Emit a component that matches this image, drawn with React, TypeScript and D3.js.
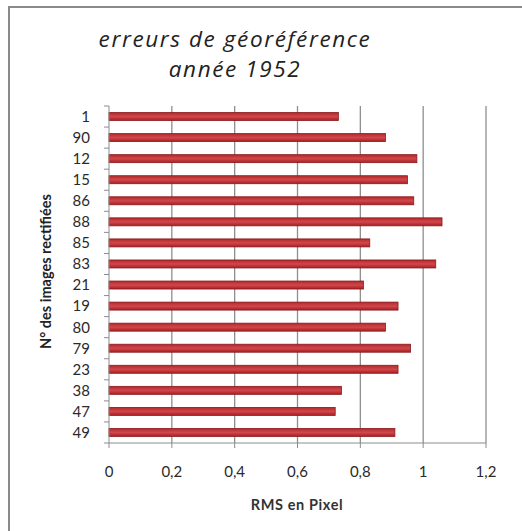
import React from "react";
import * as d3 from "d3";

const categories = ["1", "90", "12", "15", "86", "88", "85", "83", "21", "19", "80", "79", "23", "38", "47", "49"];
const rmsValues = [0.73, 0.88, 0.98, 0.95, 0.97, 1.06, 0.83, 1.04, 0.81, 0.92, 0.88, 0.96, 0.92, 0.74, 0.72, 0.91];
const xTicks = [0, 0.2, 0.4, 0.6, 0.8, 1, 1.2];
const titleLines = ["erreurs de géoréférence", "année 1952"];
const xTitle = "RMS en Pixel";
const yTitle = "N° des images rectifiées";

const W = 522;
const H = 531;
const left = 109;
const right = 486;
const top = 106;
const bottom = 443;

export default function App() {
  const x = d3.scaleLinear().domain([0, 1.2]).range([left, right]);
  const y = d3.scaleBand<string>().domain(categories).range([top, bottom]).paddingInner(0).paddingOuter(0);
  const bw = y.bandwidth();
  const barH = 8;
  const fmt = (v: number) => String(v).replace(".", ",");
  const font = "Lato, 'Open Sans', sans-serif";
  const titleFont = "'Open Sans', sans-serif";
  const axisColor = "#8c8c8c";

  return (
    <svg width={W} height={H} style={{ position: "absolute", left: 0, top: 0, background: "#fff" }}>
      <defs>
        <linearGradient id="barGrad" x1="0" y1="0" x2="0" y2="1">
          <stop offset="0" stopColor="#b3272b" />
          <stop offset="0.5" stopColor="#d0484b" />
          <stop offset="1" stopColor="#a81f23" />
        </linearGradient>
      </defs>
      <rect x={0} y={0} width={W} height={H} fill="#fff" />
      {/* outer frame */}
      <path d={`M9,${H} L9,7 L${W},7`} fill="none" stroke="#8a8a8a" strokeWidth={2} />

      {/* title */}
      {titleLines.map((t, i) => (
        <text key={i} x={235} y={47 + i * 30} textAnchor="middle" fontFamily={titleFont} fontStyle="italic" fontSize={22.5} letterSpacing={1.6} fill="#222">
          {t}
        </text>
      ))}

      {/* grid lines */}
      {xTicks.slice(1).map((t) => (
        <line key={"g" + t} x1={x(t)} x2={x(t)} y1={top} y2={bottom} stroke="#8e8e8e" strokeWidth={1.3} />
      ))}

      {/* bars */}
      {categories.map((c, i) => {
        const yc = (y(c) as number) + bw / 2;
        return (
          <rect
            key={"b" + c}
            x={x(0)}
            y={yc - barH / 2}
            width={x(rmsValues[i]) - x(0)}
            height={barH}
            fill="url(#barGrad)"
            stroke="#8a1a1d"
            strokeWidth={0.8}
          />
        );
      })}

      {/* y axis */}
      <line x1={left} x2={left} y1={top} y2={bottom} stroke={axisColor} strokeWidth={1} />
      {[...categories.map((c) => y(c) as number), bottom].map((v, i) => (
        <line key={"yt" + i} x1={left - 5} x2={left} y1={v} y2={v} stroke={axisColor} strokeWidth={1} />
      ))}
      {categories.map((c) => (
        <text key={"yl" + c} x={90} y={(y(c) as number) + bw / 2} dy="0.36em" textAnchor="end" fontFamily={font} fontSize={15} fill="#2a2a2a">
          {c}
        </text>
      ))}

      {/* x axis */}
      <line x1={left} x2={right} y1={bottom} y2={bottom} stroke={axisColor} strokeWidth={1} />
      {xTicks.map((t) => (
        <line key={"xt" + t} x1={x(t)} x2={x(t)} y1={bottom} y2={bottom + 5} stroke={axisColor} strokeWidth={1} />
      ))}
      {xTicks.map((t) => (
        <text key={"xl" + t} x={x(t)} y={477} textAnchor="middle" fontFamily={font} fontSize={15} fill="#2a2a2a">
          {fmt(t)}
        </text>
      ))}

      {/* axis titles */}
      <text x={297} y={510} textAnchor="middle" fontFamily={font} fontWeight="bold" fontSize={14.5} letterSpacing={0.6} fill="#333">
        {xTitle}
      </text>
      <text
        transform={`translate(51,${(top + bottom) / 2 - 3}) rotate(-90)`}
        textAnchor="middle"
        fontFamily={font}
        fontWeight="bold"
        fontSize={14.5}
        fill="#222"
      >
        {yTitle}
      </text>
    </svg>
  );
}
